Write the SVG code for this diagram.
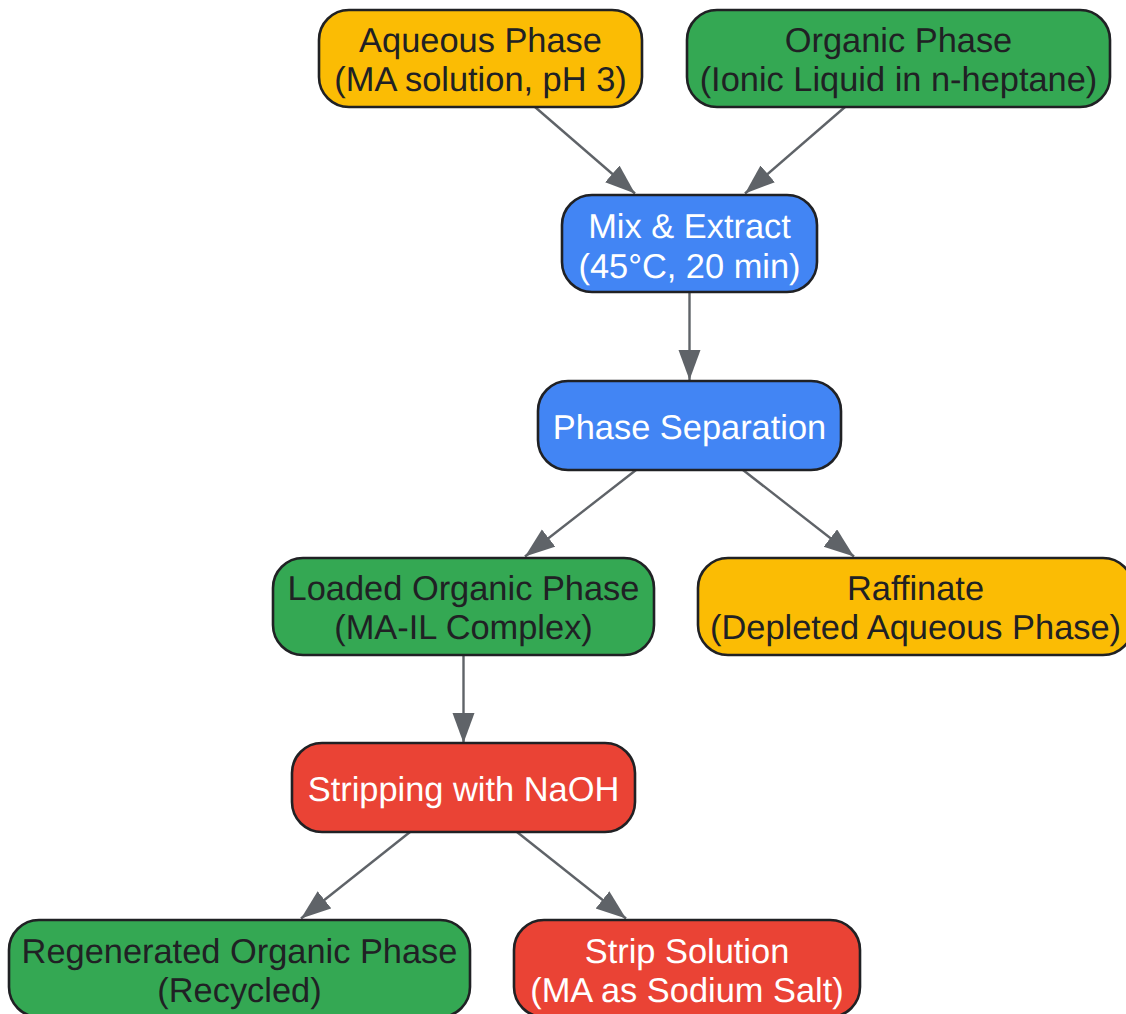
<svg xmlns="http://www.w3.org/2000/svg" width="1126" height="1014" viewBox="0 0 1126 1014">
<defs>
<style>
text{font-family:"Liberation Sans",Arial,sans-serif;font-size:34.4px;text-anchor:middle;text-rendering:geometricPrecision}
.d{fill:#202124}.w{fill:#fff}
rect{stroke:#202124;stroke-width:2.6}
.y{fill:#fbbc04}.g{fill:#34a853}.b{fill:#4285f4}.r{fill:#ea4335}
#edges line{stroke:#5f6368;stroke-width:2.4;marker-end:url(#a)}
</style>
<marker id="a" markerUnits="userSpaceOnUse" markerWidth="32" markerHeight="24" refX="30" refY="11" orient="auto"><path d="M0 0L30 11L0 22Z" fill="#5f6368"/></marker>
</defs>
<rect width="1126" height="1014" fill="#fff" style="stroke:none"/>
<g id="edges">
<line x1="535" y1="107" x2="635" y2="193.500"/>
<line x1="845" y1="107" x2="745" y2="193.500"/>
<line x1="689.500" y1="292" x2="689.500" y2="380"/>
<line x1="636" y1="470" x2="525" y2="556.500"/>
<line x1="743" y1="470" x2="854" y2="556.500"/>
<line x1="463.500" y1="655" x2="463.500" y2="743"/>
<line x1="410" y1="832" x2="301" y2="918.500"/>
<line x1="517" y1="832" x2="626" y2="918.500"/>
</g>
<g id="aqueous"><rect class="y" x="319" y="10" width="323" height="97" rx="30"/><text class="d" x="480.500" y="52">Aqueous Phase</text><text class="d" x="480.500" y="91">(MA solution, pH 3)</text></g>
<g id="organic"><rect class="g" x="687" y="10" width="423" height="97" rx="30"/><text class="d" x="898.500" y="52">Organic Phase</text><text class="d" x="898.500" y="91">(Ionic Liquid in n-heptane)</text></g>
<g id="mix"><rect class="b" x="562" y="195" width="255" height="97" rx="30"/><text class="w" x="689.500" y="238">Mix &amp; Extract</text><text class="w" x="689.500" y="278">(45°C, 20 min)</text></g>
<g id="separation"><rect class="b" x="538" y="381" width="303" height="89" rx="30"/><text class="w" x="689.500" y="439">Phase Separation</text></g>
<g id="loaded"><rect class="g" x="273" y="558" width="381" height="97" rx="30"/><text class="d" x="463.500" y="600">Loaded Organic Phase</text><text class="d" x="463.500" y="639">(MA-IL Complex)</text></g>
<g id="raffinate"><rect class="y" x="698" y="558" width="435" height="97" rx="30"/><text class="d" x="915.500" y="600">Raffinate</text><text class="d" x="915.500" y="639">(Depleted Aqueous Phase)</text></g>
<g id="stripping"><rect class="r" x="292" y="743" width="343" height="89" rx="30"/><text class="w" x="463.500" y="801">Stripping with NaOH</text></g>
<g id="regenerated"><rect class="g" x="9" y="920" width="461" height="97" rx="30"/><text class="d" x="239.500" y="963">Regenerated Organic Phase</text><text class="d" x="239.500" y="1002">(Recycled)</text></g>
<g id="strip"><rect class="r" x="514" y="920" width="346" height="97" rx="30"/><text class="w" x="687" y="963">Strip Solution</text><text class="w" x="687" y="1002">(MA as Sodium Salt)</text></g>
</svg>
